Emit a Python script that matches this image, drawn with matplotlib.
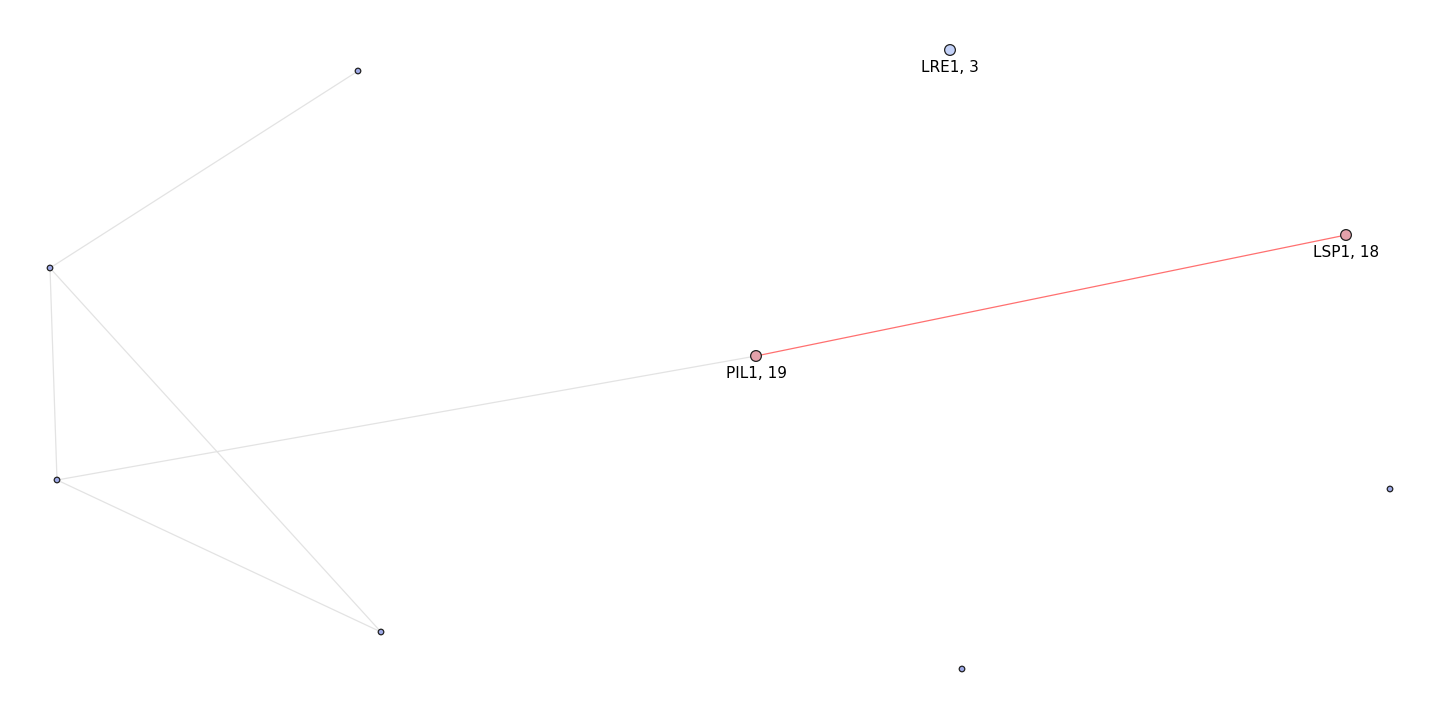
import numpy as np
import matplotlib
matplotlib.use("Agg")
import matplotlib.pyplot as plt

# node data: name, x, y (pixel-like layout coords), label, colour, size
names = ["A", "B", "C", "D", "PIL1", "LSP1", "LRE1", "H", "I"]
xs = [358, 50, 57, 381, 756, 1346, 950, 1390, 962]
ys = [71, 268, 480, 632, 356, 235, 50, 489, 669]
labels = ["", "", "", "", "PIL1, 19", "LSP1, 18", "LRE1, 3", "", ""]
colors = ["#9ea9e6", "#9ea9e6", "#9ea9e6", "#9ea9e6",
          "#e3a1aa", "#e3a1aa", "#c3d1f7", "#9ea9e6", "#9ea9e6"]
sizes = [16, 16, 16, 16, 60, 60, 60, 16, 16]

# edges (by index) and colours
edges = [(0, 1), (1, 2), (1, 3), (2, 3), (2, 4), (4, 5)]
edge_colors = ["#e3e3e3"] * 5 + ["#ff7070"]

fig = plt.figure(figsize=(14.4, 7.2), dpi=100)
ax = fig.add_axes([0, 0, 1, 1])
ax.set_xlim(0, 1440)
ax.set_ylim(720, 0)
ax.axis("off")

for (a, b), c in zip(edges, edge_colors):
    ax.plot([xs[a], xs[b]], [ys[a], ys[b]], color=c, lw=0.9, zorder=1)

ax.scatter(xs, ys, s=sizes, c=colors, edgecolors="#222222", linewidths=0.9, zorder=2)

for x, y, lab in zip(xs, ys, labels):
    if lab:
        ax.text(x, y + 10, lab, ha="center", va="top", fontsize=11, zorder=3)

fig.savefig("out.png", dpi=100)
